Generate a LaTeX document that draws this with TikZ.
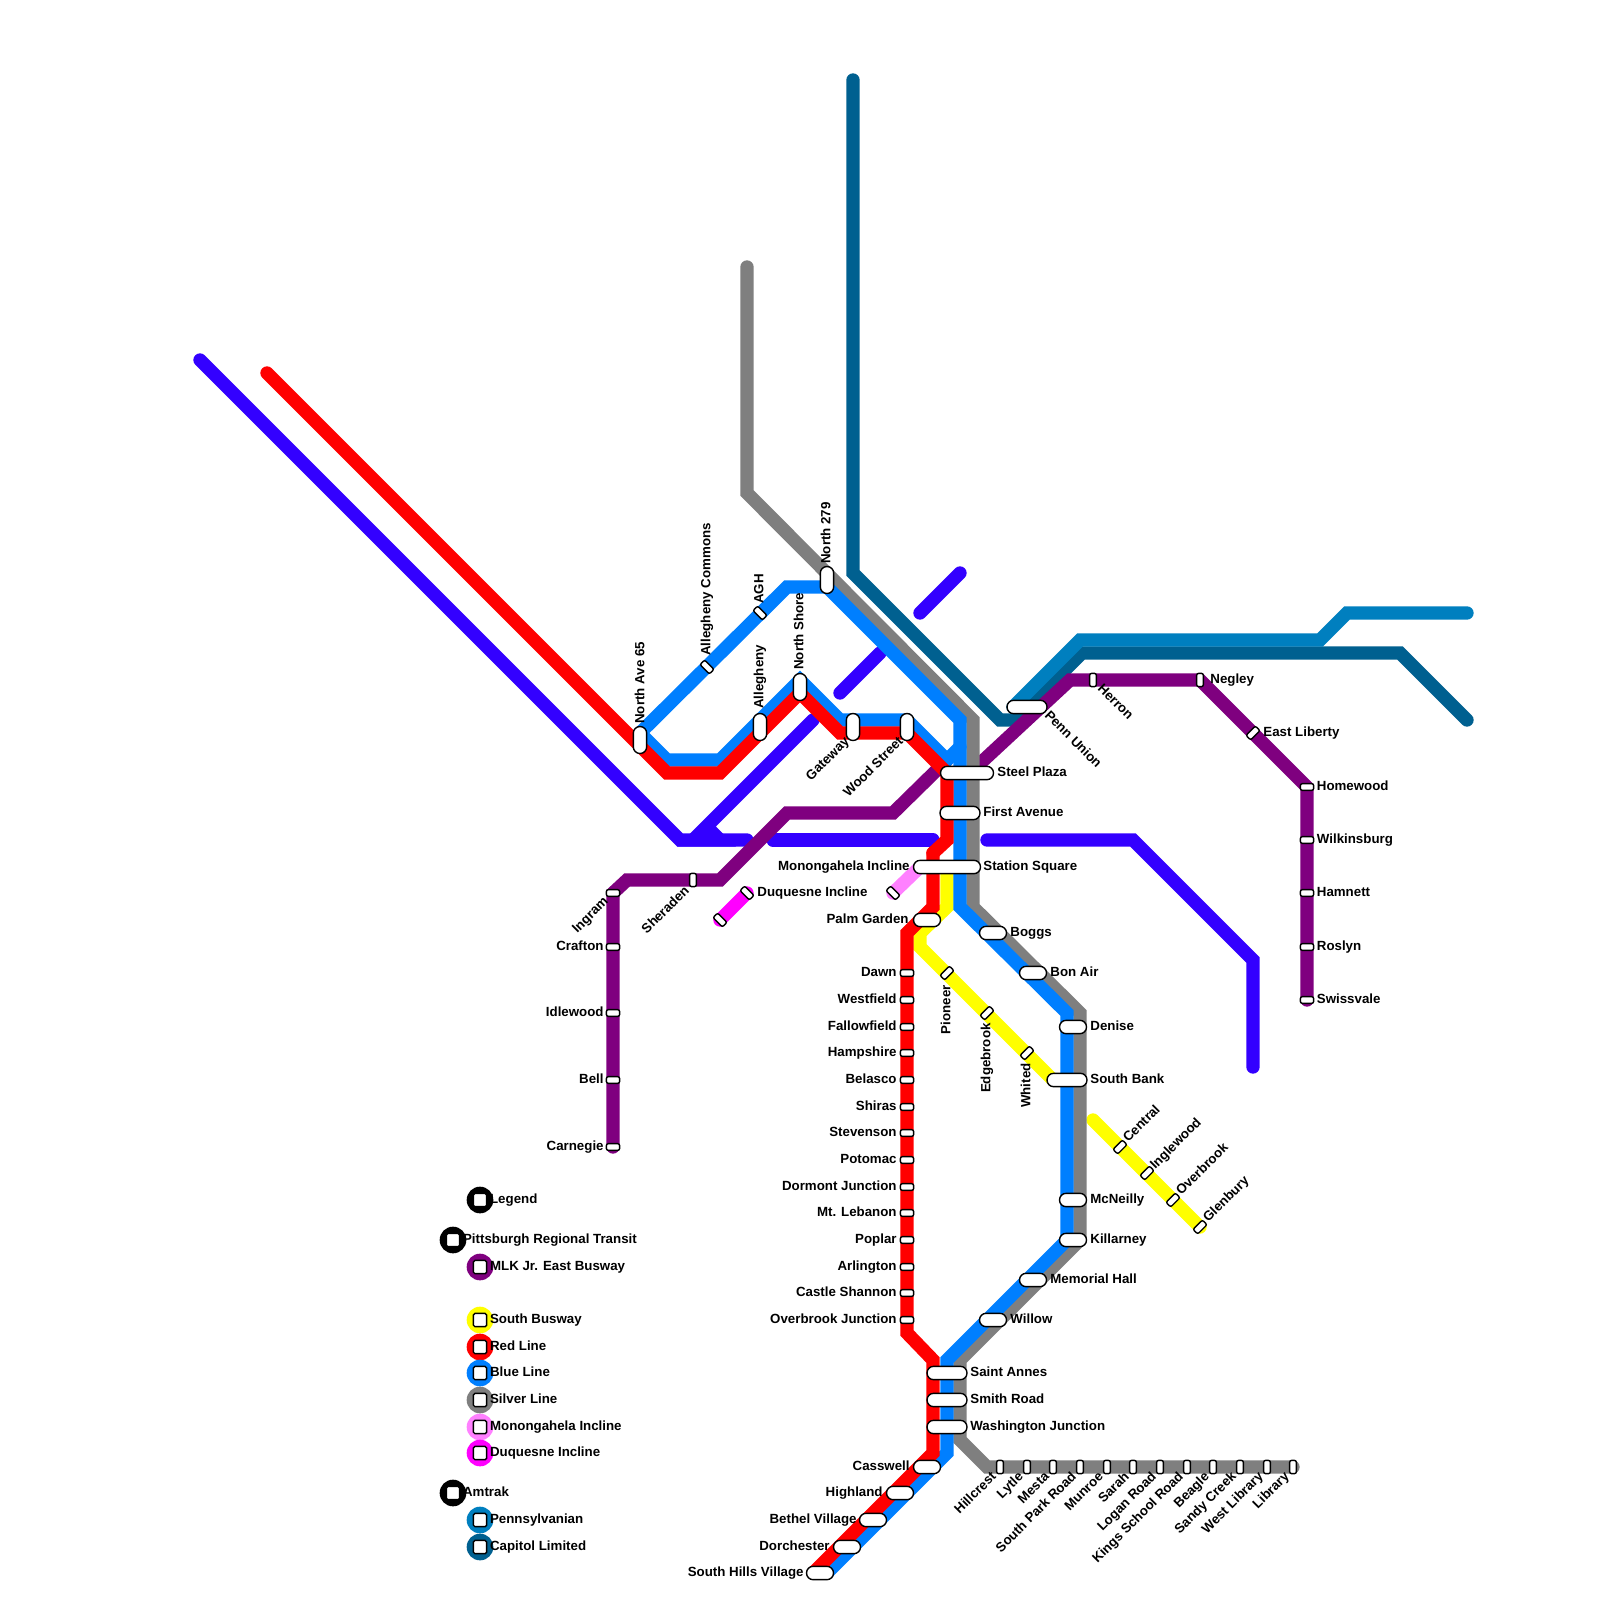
\documentclass[tikz,border=0pt]{standalone}
\usepackage{fontspec}
\setmainfont{Liberation Sans}
\definecolor{rapid}{HTML}{3300FF}
\definecolor{busway}{HTML}{7F007F}
\definecolor{yel}{HTML}{FFFF00}
\definecolor{redl}{HTML}{FF0000}
\definecolor{bluel}{HTML}{007FFF}
\definecolor{silver}{HTML}{7F7F7F}
\definecolor{monon}{HTML}{FF80FF}
\definecolor{duq}{HTML}{FF00FF}
\definecolor{penn}{HTML}{007FBF}
\definecolor{capl}{HTML}{006090}
\tikzset{
  route/.style={line width=6.67pt,line cap=round,line join=miter,miter limit=10},
  bigst/.style={draw=black,fill=white,line width=.7pt,rounded corners=3.3pt,inner sep=0pt,minimum height=6.67pt},
  smallst/.style={draw=black,fill=white,line width=.7pt,rounded corners=1pt,inner sep=0pt,minimum height=3.33pt,minimum width=6.67pt},
  lab/.style={inner sep=0pt,font=\fontsize{6.65pt}{7pt}\selectfont\bfseries,text height=.72em,text depth=.28em},
  legc/.style={circle,draw=none,minimum size=13.33pt,inner sep=0pt},
  legs/.style={draw=black,fill=white,line width=.7pt,rounded corners=.8pt,inner sep=0pt,minimum size=6.67pt}
}
% big station: name, position, length (px), rotation
\newcommand{\bigS}[4]{\node[bigst,minimum width=#3*0.5pt,rotate=#4] (#1) at (#2) {};}
\newcommand{\smS}[3]{\node[smallst,rotate=#3] (#1) at (#2) {};}
\newcommand{\Lab}[5]{\node[lab,anchor=#3,rotate=#4] (#1) at (#2) {#5};}
\newcommand{\Leg}[4]{\node[legc,fill=#2] (#1c) at (#3) {};\node[legs] (#1s) at (#3) {};\node[lab,anchor=west] (#1t) at ($(#3)+(9.7,-1)$) {#4};}
\usetikzlibrary{calc}
\begin{document}
\begin{tikzpicture}[x=0.5pt,y=-0.5pt]
\fill[white] (0,0) rectangle (1600,1600);
\useasboundingbox (0,0) rectangle (1600,1600);
% rapid
\draw[route,rapid] (200,360) -- (680,840) -- (747,840);
\draw[route,rapid] (813,720) -- (693,840) -- (720,840) -- (707,827);
\draw[route,rapid] (773,840) -- (933,840);
\draw[route,rapid] (987,840) -- (1133,840) -- (1253,960) -- (1253,1067);
\draw[route,rapid] (840,693) -- (880,653);
\draw[route,rapid] (920,613) -- (960,573);
% amtrak
\draw[route,capl] (853,80) -- (853,573) -- (1000,720) -- (1015,720) -- (1082,653) -- (1400,653) -- (1467,720);
\draw[route,penn] (1013,707) -- (1080,640) -- (1320,640) -- (1347,613) -- (1467,613);
% busway
\draw[route,busway] (613,1147) -- (613,893) -- (627,880) -- (720,880) -- (787,813) -- (893,813) -- (947,760);
\draw[route,busway] (973,770) -- (1070,680) -- (1200,680) -- (1307,787) -- (1307,1000);
% yellow
\draw[route,yel] (947,867) -- (947,907) -- (920,933) -- (920,947) -- (1053,1080);
\draw[route,yel] (1093,1120) -- (1200,1227);
% silver
\draw[route,silver] (747,267) -- (747,493) -- (973,720) -- (973,907) -- (1080,1013) -- (1080,1240) -- (960,1360) -- (960,1440) -- (987,1467) -- (1293,1467);
% blue
\draw[route,bluel] (640,733) -- (787,587) -- (827,587) -- (960,720) -- (960,907) -- (1067,1013) -- (1067,1240) -- (947,1360) -- (947,1453) -- (827,1573);
\draw[route,bluel] (640,733) -- (667,760) -- (720,760) -- (800,680) -- (840,720) -- (907,720) -- (947,760) -- (960,747);
% red
\draw[route,redl] (267,373) -- (667,773) -- (720,773) -- (800,693) -- (840,733) -- (907,733) -- (947,773) -- (947,840) -- (933,853);
\draw[route,redl] (933,853) -- (933,907) -- (907,933) -- (907,1333) -- (933,1360) -- (933,1453) -- (813,1573);
% inclines
\draw[route,monon] (893,893) -- (920,867);
\draw[route,duq] (720,920) -- (747,893);
% stations - north side
\bigS{ave}{640,740}{27}{90}\Lab{avel}{640,724}{west}{90}{North Ave 65}
\smS{cmn}{707,667}{-45}\Lab{cmnl}{706,656}{west}{90}{Allegheny Commons}
\smS{agh}{760,613}{-45}\Lab{aghl}{759,604}{west}{90}{AGH}
\bigS{alg}{760,727}{27}{90}\Lab{algl}{759,709}{west}{90}{Allegheny}
\bigS{nsh}{800,687}{27}{90}\Lab{nshl}{799,670}{west}{90}{North Shore}
\bigS{n279}{827,580}{27}{90}\Lab{n279l}{826,564}{west}{90}{North 279}
\bigS{gat}{853,727}{27}{90}\Lab{gatl}{847,739}{east}{45}{Gateway}
\bigS{woo}{907,727}{27}{90}\Lab{wool}{901,739}{east}{45}{Wood Street}
\bigS{pen}{1027,707}{40}{0}\Lab{penl}{1047,713}{west}{-45}{Penn Union}
\smS{her}{1093,680}{90}\Lab{herl}{1100,686}{west}{-45}{Herron}
\smS{neg}{1200,680}{90}\Lab{negl}{1210,679}{west}{0}{Negley}
\smS{eas}{1253,733}{45}\Lab{easl}{1263,732}{west}{0}{East Liberty}
\smS{hom}{1307,787}{0}\Lab{homl}{1316.5,786}{west}{0}{Homewood}
\smS{wil}{1307,840}{0}\Lab{will}{1316.5,839}{west}{0}{Wilkinsburg}
\smS{ham}{1307,893}{0}\Lab{haml}{1316.5,892}{west}{0}{Hamnett}
\smS{ros}{1307,947}{0}\Lab{rosl}{1316.5,946}{west}{0}{Roslyn}
\smS{swi}{1307,1000}{0}\Lab{swil}{1316.5,999}{west}{0}{Swissvale}
\smS{ing}{613,893}{0}\Lab{ingl}{606,899}{east}{45}{Ingram}
\smS{cra}{613,947}{0}\Lab{cral}{604,946}{east}{0}{Crafton}
\smS{idl}{613,1013}{0}\Lab{idll}{604,1012}{east}{0}{Idlewood}
\smS{bel}{613,1080}{0}\Lab{bell}{604,1079}{east}{0}{Bell}
\smS{car}{613,1147}{0}\Lab{carl}{604,1146}{east}{0}{Carnegie}
\smS{she}{693,880}{90}\Lab{shel}{687,888}{east}{45}{Sheraden}
\smS{duA}{747,893}{-45}\smS{duB}{720,920}{-45}\Lab{dul}{757,892}{west}{0}{Duquesne Incline}
\smS{moA}{893,893}{-45}\Lab{mol}{910,866}{east}{0}{Monongahela Incline}
% downtown
\bigS{sta}{947,867}{67}{0}\Lab{stal}{983,866}{west}{0}{Station Square}
\bigS{ste}{967,773}{53}{0}\Lab{stel}{997,772}{west}{0}{Steel Plaza}
\bigS{fir}{960,813}{40}{0}\Lab{firl}{983,812}{west}{0}{First Avenue}
\bigS{pal}{927,920}{27}{0}\Lab{pall}{909,919}{east}{0}{Palm Garden}
\bigS{bog}{993,933}{27}{0}\Lab{bogl}{1010,932}{west}{0}{Boggs}
\bigS{bon}{1033,973}{27}{0}\Lab{bonl}{1050,972}{west}{0}{Bon Air}
\bigS{den}{1073,1027}{27}{0}\Lab{denl}{1090,1026}{west}{0}{Denise}
\bigS{sou}{1067,1080}{40}{0}\Lab{soul}{1090,1079}{west}{0}{South Bank}
\bigS{mcn}{1073,1200}{27}{0}\Lab{mcnl}{1090,1199}{west}{0}{McNeilly}
\bigS{kil}{1073,1240}{27}{0}\Lab{kill}{1090,1239}{west}{0}{Killarney}
\bigS{mem}{1033,1280}{27}{0}\Lab{meml}{1050,1279}{west}{0}{Memorial Hall}
\bigS{wlw}{993,1320}{27}{0}\Lab{wlwl}{1010,1319}{west}{0}{Willow}
\bigS{sai}{947,1373}{40}{0}\Lab{sail}{970,1372}{west}{0}{Saint Annes}
\bigS{smi}{947,1400}{40}{0}\Lab{smil}{970,1399}{west}{0}{Smith Road}
\bigS{was}{947,1427}{40}{0}\Lab{wasl}{970,1426}{west}{0}{Washington Junction}
\bigS{cas}{927,1467}{27}{0}\Lab{casl}{910,1466}{east}{0}{Casswell}
\bigS{hig}{900,1493}{27}{0}\Lab{higl}{883,1492}{east}{0}{Highland}
\bigS{bet}{873,1520}{27}{0}\Lab{betl}{857,1519}{east}{0}{Bethel Village}
\bigS{dor}{847,1547}{27}{0}\Lab{dorl}{830,1546}{east}{0}{Dorchester}
\bigS{shv}{820,1573}{27}{0}\Lab{shvl}{804,1572}{east}{0}{South Hills Village}
% red stations
\smS{daw}{907,973}{0}\Lab{dawl}{897,972}{east}{0}{Dawn}
\smS{wes}{907,1000}{0}\Lab{wesl}{897,999}{east}{0}{Westfield}
\smS{fal}{907,1027}{0}\Lab{fall}{897,1026}{east}{0}{Fallowfield}
\smS{hmp}{907,1053}{0}\Lab{hmpl}{897,1052}{east}{0}{Hampshire}
\smS{bls}{907,1080}{0}\Lab{blsl}{897,1079}{east}{0}{Belasco}
\smS{shi}{907,1107}{0}\Lab{shil}{897,1106}{east}{0}{Shiras}
\smS{stv}{907,1133}{0}\Lab{stvl}{897,1132}{east}{0}{Stevenson}
\smS{pot}{907,1160}{0}\Lab{potl}{897,1159}{east}{0}{Potomac}
\smS{dmt}{907,1187}{0}\Lab{dmtl}{897,1186}{east}{0}{Dormont Junction}
\smS{mtl}{907,1213}{0}\Lab{mtll}{897,1212}{east}{0}{Mt. Lebanon}
\smS{pop}{907,1240}{0}\Lab{popl}{897,1239}{east}{0}{Poplar}
\smS{arl}{907,1267}{0}\Lab{arll}{897,1266}{east}{0}{Arlington}
\smS{csh}{907,1293}{0}\Lab{cshl}{897,1292}{east}{0}{Castle Shannon}
\smS{ovj}{907,1320}{0}\Lab{ovjl}{897,1319}{east}{0}{Overbrook Junction}
% yellow stations
\smS{pio}{947,973}{45}\Lab{piol}{946,985}{east}{90}{Pioneer}
\smS{edg}{987,1013}{45}\Lab{edgl}{986,1023}{east}{90}{Edgebrook}
\smS{whi}{1027,1053}{45}\Lab{whil}{1026,1063}{east}{90}{Whited}
\smS{cen}{1120,1147}{45}\Lab{cenl}{1125,1140}{west}{45}{Central}
\smS{ing2}{1147,1173}{45}\Lab{ing2l}{1152,1167}{west}{45}{Inglewood}
\smS{ovr}{1173,1200}{45}\Lab{ovrl}{1178,1193}{west}{45}{Overbrook}
\smS{gle}{1200,1227}{45}\Lab{glel}{1205,1220}{west}{45}{Glenbury}
% silver stations
\smS{hil}{1000,1467}{90}\Lab{hill}{994,1474}{east}{45}{Hillcrest}
\smS{lyt}{1027,1467}{90}\Lab{lytl}{1021,1474}{east}{45}{Lytle}
\smS{mes}{1053,1467}{90}\Lab{mesl}{1047,1474}{east}{45}{Mesta}
\smS{spr}{1080,1467}{90}\Lab{sprl}{1074,1474}{east}{45}{South Park Road}
\smS{mun}{1107,1467}{90}\Lab{munl}{1101,1474}{east}{45}{Munroe}
\smS{sar}{1133,1467}{90}\Lab{sarl}{1127,1474}{east}{45}{Sarah}
\smS{log}{1160,1467}{90}\Lab{logl}{1154,1474}{east}{45}{Logan Road}
\smS{kin}{1187,1467}{90}\Lab{kinl}{1181,1474}{east}{45}{Kings School Road}
\smS{bea}{1213,1467}{90}\Lab{beal}{1207,1474}{east}{45}{Beagle}
\smS{san}{1240,1467}{90}\Lab{sanl}{1234,1474}{east}{45}{Sandy Creek}
\smS{wlb}{1267,1467}{90}\Lab{wlbl}{1261,1474}{east}{45}{West Library}
\smS{lib}{1293,1467}{90}\Lab{libl}{1287,1474}{east}{45}{Library}
% legend
\Leg{la}{black}{480,1200}{Legend}
\Leg{lb}{black}{453,1240}{Pittsburgh Regional Transit}
\Leg{lc}{busway}{480,1267}{MLK Jr. East Busway}
\Leg{ld}{yel}{480,1320}{South Busway}
\Leg{le}{redl}{480,1347}{Red Line}
\Leg{lf}{bluel}{480,1373}{Blue Line}
\Leg{lg}{silver}{480,1400}{Silver Line}
\Leg{lh}{monon}{480,1427}{Monongahela Incline}
\Leg{li}{duq}{480,1453}{Duquesne Incline}
\Leg{lj}{black}{453,1493}{Amtrak}
\Leg{lk}{penn}{480,1520}{Pennsylvanian}
\Leg{ll}{capl}{480,1547}{Capitol Limited}
\end{tikzpicture}
\end{document}
